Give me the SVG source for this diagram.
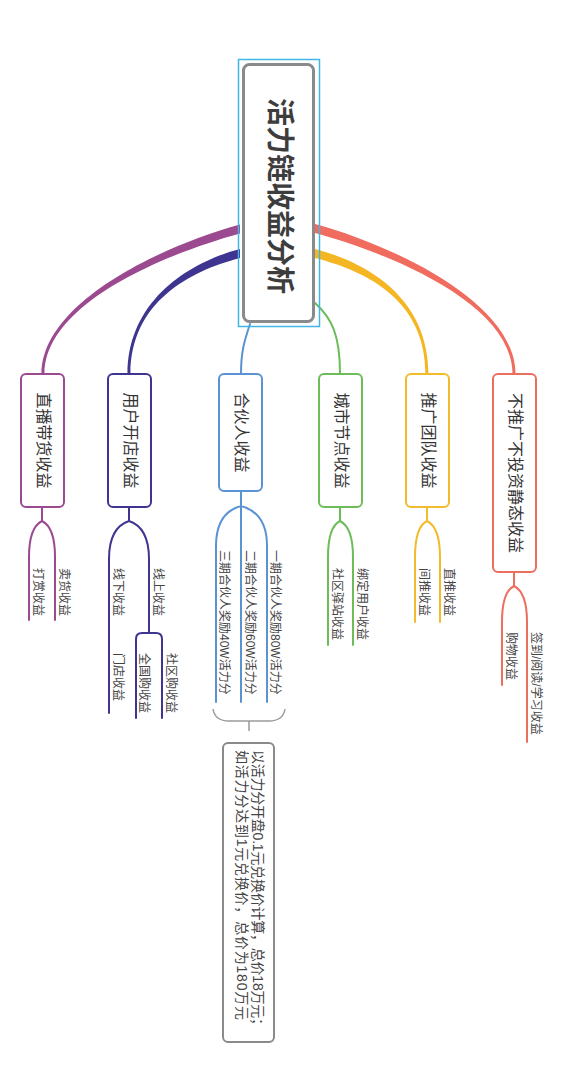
<svg xmlns="http://www.w3.org/2000/svg" width="571" height="1082" viewBox="0 0 571 1082">
<style>
text{font-family:"Liberation Sans","Noto Sans CJK SC",sans-serif;dominant-baseline:central}
.root{font-size:28px;font-weight:bold;fill:#3d3d3d;text-anchor:middle}
.l1{font-size:16px;fill:#333;text-anchor:middle}
.leaf{font-size:12px;fill:#444}
.sum{font-size:14px;fill:#444}
.box{fill:#fff;stroke-width:2}
.ln{fill:none;stroke-width:2;stroke-linecap:round}
.pu{stroke:#9c4a90}.in{stroke:#3d3590}.bl{stroke:#5a93d3}.gr{stroke:#6cbd5a}.ye{stroke:#f2bb2c}.re{stroke:#ec6f5e}
</style>
<rect width="571" height="1082" fill="#fff"/>
<g id="connectors">
<path d="M240,224.5 C160,246.5 41.5,303 41.5,374 L44.5,374 C44.5,305 160,255.5 240,233.5 Z" fill="#9c4a90"/>
<path d="M240,249 C190,262 127.5,300 127.5,374 L130.5,374 C130.5,302 190,271 240,258 Z" fill="#3d3590"/>
<path d="M250,324 C244,342 241,352 241,374" class="ln bl" stroke-width="3.5"/>
<path d="M314,302 C332,318 340,335 340,374" class="ln gr" stroke-width="4"/>
<path d="M315,249 C370,263 428.5,300 428.5,374 L425.5,374 C425.5,302 370,272 315,258 Z" fill="#f5b623"/>
<path d="M315,224 C395,246 515.5,303 515.5,374 L512.5,374 C512.5,305 395,255 315,233 Z" fill="#ef6c5e"/>
<path class="ln pu" d="M42,507 L42,521 C34,525 29,537 29,557 L29,620 M42,521 C50,525 55,537 55,557 L55,620"/>
<path class="ln in" d="M129,507 L129,521 C117,525 109,537 109,559 L109,713 M129,521 C141,525 149,537 149,559 L149,633 M136,718 L136,639 Q136,633 142,633 L156,633 Q162,633 162,639 L162,718"/>
<path class="ln bl" d="M241,491 L241,702 M241,506 C226,510 216,522 216,546 L216,702 M241,506 C256,510 267,522 267,546 L267,702"/>
<path class="ln gr" d="M340,507 L340,521 C332,525 328,537 328,557 L328,645 M340,521 C348,525 353,537 353,557 L353,645"/>
<path class="ln ye" d="M427,507 L427,521 C419,525 415,537 415,557 L415,622 M427,521 C435,525 440,537 440,557 L440,622"/>
<path class="ln re" d="M514,572 L514,586 C506,590 502,602 502,622 L502,685 M514,586 C522,590 527,602 527,622 L527,742"/>
<path d="M213,709 Q215,721 229,721 L269,721 Q283,721 285,709 M249,721 L249,731" fill="none" stroke="#9a9a9a" stroke-width="1.5"/>
</g>
<g id="root">
<rect x="238.5" y="59.5" width="81" height="267" fill="none" stroke="#41b6e6" stroke-width="1.5"/>
<rect x="243.5" y="64.5" width="70" height="257" rx="6" fill="#fff" stroke="#8a8a8a" stroke-width="3"/>
<text class="root" transform="translate(279,196) rotate(90)">活力链收益分析</text>
</g>
<g id="n-zhibo">
<rect class="box pu" x="21" y="374" width="43" height="133" rx="5"/>
<text class="l1" transform="translate(43,440.5) rotate(90)">直播带货收益</text>
</g>
<g id="n-yonghu">
<rect class="box in" x="108" y="374" width="43" height="133" rx="5"/>
<text class="l1" transform="translate(130,440.5) rotate(90)">用户开店收益</text>
</g>
<g id="n-hehuo">
<rect class="box bl" x="219" y="374" width="43" height="117" rx="5"/>
<text class="l1" transform="translate(241,432.5) rotate(90)">合伙人收益</text>
</g>
<g id="n-chengshi">
<rect class="box gr" x="319" y="374" width="43" height="133" rx="5"/>
<text class="l1" transform="translate(341,440.5) rotate(90)">城市节点收益</text>
</g>
<g id="n-tuiguang">
<rect class="box ye" x="406" y="374" width="43" height="133" rx="5"/>
<text class="l1" transform="translate(428,440.5) rotate(90)">推广团队收益</text>
</g>
<g id="n-jingtai">
<rect class="box re" x="493" y="374" width="43" height="198" rx="5"/>
<text class="l1" transform="translate(515,473) rotate(90)">不推广不投资静态收益</text>
</g>
<g id="leaf-dashang"><text class="leaf" transform="translate(38,568) rotate(90)">打赏收益</text></g>
<g id="leaf-maihuo"><text class="leaf" transform="translate(64,568) rotate(90)">卖货收益</text></g>
<g id="leaf-xianxia"><text class="leaf" transform="translate(118,568) rotate(90)">线下收益</text></g>
<g id="leaf-mendian"><text class="leaf" transform="translate(118,653) rotate(90)">门店收益</text></g>
<g id="leaf-xianshang"><text class="leaf" transform="translate(158,568) rotate(90)">线上收益</text></g>
<g id="leaf-quanguo"><text class="leaf" transform="translate(144,653) rotate(90)">全国购收益</text></g>
<g id="leaf-shequgou"><text class="leaf" transform="translate(171,653) rotate(90)">社区购收益</text></g>
<g id="leaf-sanqi"><text class="leaf" transform="translate(224,550) rotate(90)">三期合伙人奖励40W活力分</text></g>
<g id="leaf-erqi"><text class="leaf" transform="translate(250,550) rotate(90)">二期合伙人奖励60W活力分</text></g>
<g id="leaf-yiqi"><text class="leaf" transform="translate(275,550) rotate(90)">一期合伙人奖励80W活力分</text></g>
<g id="leaf-yizhan"><text class="leaf" transform="translate(337,568) rotate(90)">社区驿站收益</text></g>
<g id="leaf-bangding"><text class="leaf" transform="translate(362,568) rotate(90)">绑定用户收益</text></g>
<g id="leaf-jiantui"><text class="leaf" transform="translate(424,568) rotate(90)">间推收益</text></g>
<g id="leaf-zhitui"><text class="leaf" transform="translate(449,568) rotate(90)">直推收益</text></g>
<g id="leaf-gouwu"><text class="leaf" transform="translate(511,632) rotate(90)">购物收益</text></g>
<g id="leaf-qiandao"><text class="leaf" transform="translate(536,632) rotate(90)">签到/阅读/学习收益</text></g>
<g id="n-summary">
<rect x="223" y="743" width="51" height="299" rx="5" fill="#fff" stroke="#8a8a8a" stroke-width="2"/>
<text class="sum" transform="translate(258,750) rotate(90)" textLength="282" lengthAdjust="spacing">以活力分开盘0.1元兑换价计算，总价18万元；</text>
<text class="sum" transform="translate(242,750) rotate(90)" textLength="270" lengthAdjust="spacing">如活力分达到1元兑换价，总价为180万元</text>
</g>
</svg>
